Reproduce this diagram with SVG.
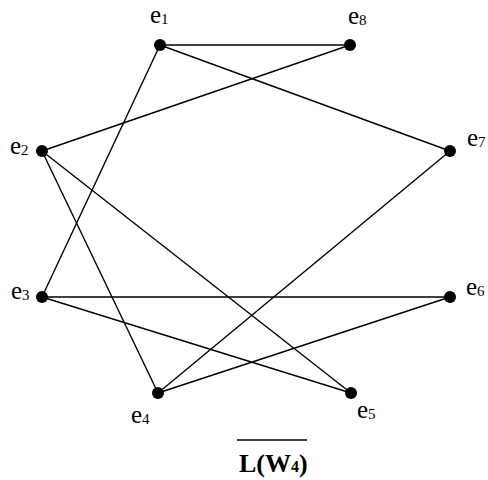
<svg xmlns="http://www.w3.org/2000/svg" width="488" height="480" viewBox="0 0 488 480">
<style>
.e{stroke:#000;stroke-width:1.4;fill:none}
.n{fill:#000}
.l{font-family:"Liberation Serif",serif;font-size:25px;fill:#000}
.s{font-size:15px}
.t{font-family:"Liberation Serif",serif;font-size:26px;font-weight:bold;fill:#000}
</style>
<rect width="488" height="480" fill="#fff"/>
<g id="edges">
<line class="e" x1="160" y1="45" x2="350" y2="45"/>
<line class="e" x1="160" y1="45" x2="450" y2="151"/>
<line class="e" x1="160" y1="45" x2="42" y2="297"/>
<line class="e" x1="42" y1="151" x2="350" y2="45"/>
<line class="e" x1="42" y1="151" x2="158" y2="393"/>
<line class="e" x1="42" y1="151" x2="351" y2="393"/>
<line class="e" x1="42" y1="297" x2="450" y2="297"/>
<line class="e" x1="42" y1="297" x2="351" y2="393"/>
<line class="e" x1="158" y1="393" x2="450" y2="151"/>
<line class="e" x1="158" y1="393" x2="450" y2="297"/>
</g>
<g id="e1"><circle class="n" cx="160" cy="45" r="6"/><text class="l" x="150" y="23">e<tspan class="s" dy="1">1</tspan></text></g>
<g id="e8"><circle class="n" cx="350" cy="45" r="6"/><text class="l" x="348" y="24">e<tspan class="s" dy="1">8</tspan></text></g>
<g id="e2"><circle class="n" cx="42" cy="151" r="6"/><text class="l" x="10" y="154">e<tspan class="s" dy="1">2</tspan></text></g>
<g id="e7"><circle class="n" cx="450" cy="151" r="6"/><text class="l" x="467" y="146">e<tspan class="s" dy="1">7</tspan></text></g>
<g id="e3"><circle class="n" cx="42" cy="297" r="6"/><text class="l" x="11" y="299">e<tspan class="s" dy="1">3</tspan></text></g>
<g id="e6"><circle class="n" cx="450" cy="297" r="6"/><text class="l" x="466" y="295">e<tspan class="s" dy="1">6</tspan></text></g>
<g id="e4"><circle class="n" cx="158" cy="393" r="6"/><text class="l" x="131" y="423">e<tspan class="s" dy="1">4</tspan></text></g>
<g id="e5"><circle class="n" cx="351" cy="393" r="6"/><text class="l" x="357" y="418">e<tspan class="s" dy="1">5</tspan></text></g>
<g id="title">
<line x1="237" y1="440" x2="307" y2="440" stroke="#000" stroke-width="1.5"/>
<text class="t" x="239" y="472">L(W<tspan font-size="16">4</tspan>)</text>
</g>
</svg>
